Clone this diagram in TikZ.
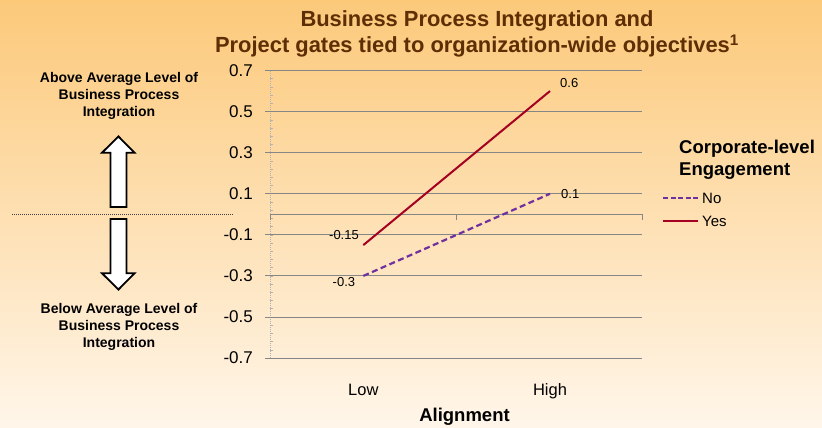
\documentclass[tikz,border=0pt]{standalone}
\usepackage{fontspec}
\setmainfont{Liberation Sans}
\usepackage{xcolor}
\usetikzlibrary{positioning}

\definecolor{bgtop}{RGB}{252,201,122}
\definecolor{bgbottom}{RGB}{255,246,234}
\definecolor{titlebrown}{RGB}{94,46,4}
\definecolor{yesred}{RGB}{165,0,33}
\definecolor{nopurple}{RGB}{112,48,160}
\definecolor{gridgray}{RGB}{134,134,134}

\tikzset{
  titletext/.style={titlebrown, font=\fontsize{21.9}{26}\selectfont\bfseries, inner sep=0pt},
  sidetext/.style={align=center, font=\fontsize{14}{17}\selectfont\bfseries, inner sep=0pt},
  ticklabel/.style={font=\fontsize{17}{20}\selectfont, inner sep=0pt},
  vallabel/.style={font=\fontsize{13}{15}\selectfont, inner sep=0pt},
  cattext/.style={font=\fontsize{16.5}{19}\selectfont, inner sep=0pt},
  axistitle/.style={font=\fontsize{18.5}{22}\selectfont\bfseries, inner sep=0pt},
  legtitle/.style={align=left, font=\fontsize{18.5}{22}\selectfont\bfseries, inner sep=0pt},
  legtext/.style={font=\fontsize{15}{18}\selectfont, inner sep=0pt, text height=10pt, text depth=0pt},
  gridline/.style={gridgray, line width=0.9pt},
  axisline/.style={gray!60, line width=0.7pt, dash pattern=on 1pt off 1pt},
  minortick/.style={gray!60, line width=0.6pt},
  yesline/.style={yesred, line width=2pt},
  noline/.style={nopurple, line width=2.2pt, dash pattern=on 6pt off 3.5pt},
  bigarrow/.style={draw=black, fill=white, line width=1.8pt, line join=miter},
  midline/.style={black!75, line width=0.8pt, dash pattern=on 1pt off 1pt}
}

\begin{document}
\begin{tikzpicture}[x=1pt, y=-1pt]
  \shade[top color=bgtop, bottom color=bgbottom] (0,0) rectangle (822,428);
  \useasboundingbox (0,0) rectangle (822,428);

  % title
  \node[titletext, anchor=base] (title1) at (477,27) {Business Process Integration and};
  \node[titletext, anchor=base] (title2) at (477,53) {Project gates tied to organization-wide objectives\textsuperscript{1}};

  % left side
  \node[sidetext, anchor=north] (above) at (119,72.5) {Above Average Level of\\Business Process\\Integration};
  \node[sidetext, anchor=north] (below) at (119,302.8) {Below Average Level of\\Business Process\\Integration};
  \coordinate (midleft) at (12,214);
  \coordinate (midright) at (233,214);
  \draw[midline] (midleft) -- (midright);
  \draw[bigarrow] (110.5,207) -- (110.5,152.7) -- (102,152.7) -- (118.5,136.5)
    -- (134.5,152.7) -- (126.5,152.7) -- (126.5,207) -- cycle;
  \draw[bigarrow] (110.5,219) -- (110.5,273.3) -- (102,273.3) -- (118.5,289.5)
    -- (134.5,273.3) -- (126.5,273.3) -- (126.5,219) -- cycle;

  % chart
  \begin{scope}[shift={(0,214.3)}, y=205.4pt]
    \draw[axisline] (270,-0.7) -- (270,0.7);
    \foreach \i in {0,...,35}
      \draw[minortick] (270,{-0.7+0.04*\i}) -- ++(3,0);
    \foreach \v [count=\k] in {0.7,0.5,0.3,0.1,-0.1,-0.3,-0.5,-0.7} {
      \draw[gridline] (265,\v) -- (642,\v);
      \node[ticklabel, anchor=east] (tick\k) at (253,\v) {\v};
    }
    \draw[gridline] (270,0) -- (642,0);
    \foreach \x in {270,456,642}
      \draw[gridline] (\x,0) -- (\x,-0.03);

    \coordinate (lowno) at (363.3,-0.3);
    \coordinate (highno) at (550,0.1);
    \coordinate (lowyes) at (363.3,-0.15);
    \coordinate (highyes) at (550,0.6);
    \draw[noline] (lowno) -- (highno);
    \draw[yesline] (lowyes) -- (highyes);

    \node[vallabel, above left=5pt and 4.3pt of lowyes] (vlowyes) {-0.15};
    \node[vallabel, below left=1pt and 8pt of lowno] (vlowno) {-0.3};
    \node[vallabel, above right=3.7pt and 10pt of highyes] (vhighyes) {0.6};
    \node[vallabel, right=11pt of highno] (vhighno) {0.1};
  \end{scope}

  \node[cattext, anchor=base] (low) at (363.3,395) {Low};
  \node[cattext, anchor=base] (high) at (550,395) {High};
  \node[axistitle, anchor=base] (alignment) at (464.5,421.7) {Alignment};

  % legend
  \node[legtitle, anchor=north west] (legtitle) at (679,139.5) {Corporate-level\\Engagement};
  \coordinate (nostart) at (663,198);
  \coordinate (noend) at (698,198);
  \coordinate (yesstart) at (663,221);
  \coordinate (yesend) at (698,221);
  \draw[noline, dash pattern=on 5pt off 2.5pt] (nostart) -- (noend);
  \draw[yesline] (yesstart) -- (yesend);
  \node[legtext, right=4pt of noend] (legno) {No};
  \node[legtext, right=4pt of yesend] (legyes) {Yes};
\end{tikzpicture}
\end{document}
